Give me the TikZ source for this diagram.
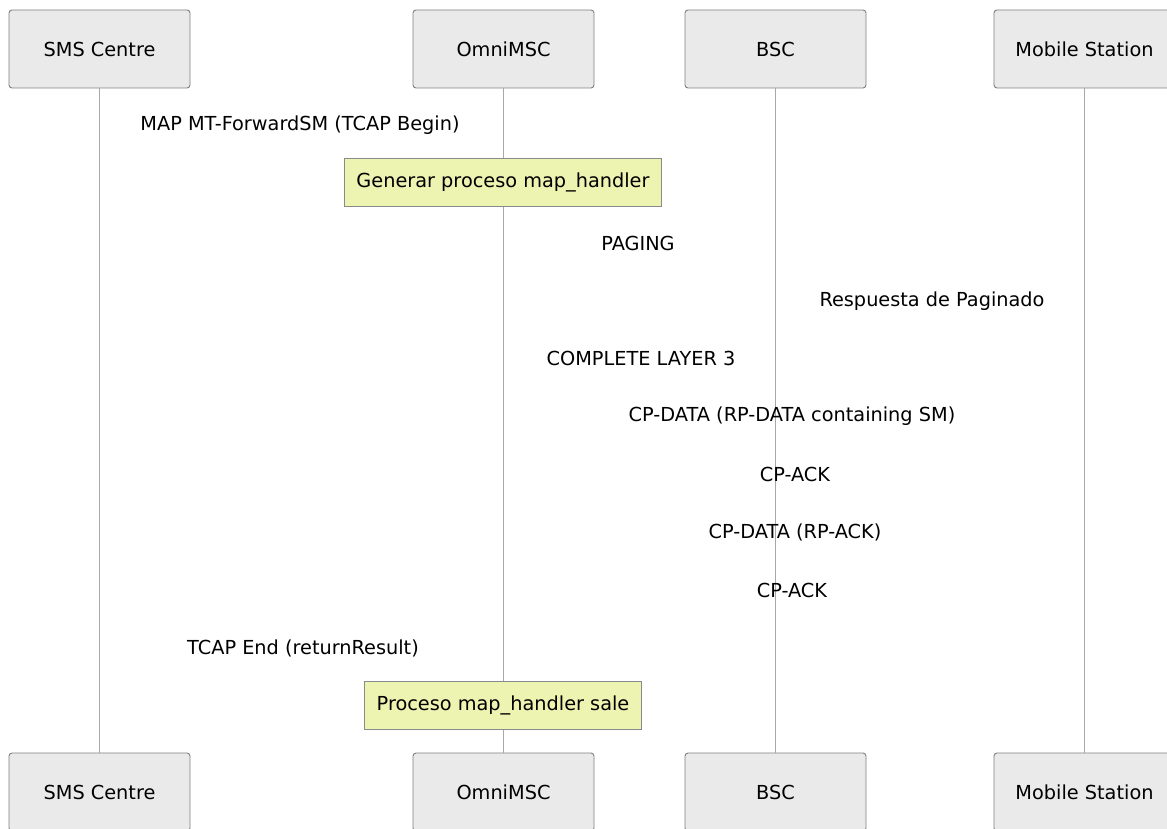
\documentclass[tikz,border=0pt]{standalone}
\usepackage{fontspec}
\setmainfont{DejaVu Sans}
\usetikzlibrary{positioning}
\definecolor{actorfill}{HTML}{EAEAEA}
\definecolor{actorline}{HTML}{808080}
\definecolor{lifeline}{HTML}{A8A8A8}
\definecolor{notefill}{HTML}{EDF3B0}
\definecolor{noteline}{HTML}{8A8A8A}

\begin{document}
\begin{tikzpicture}[x=1pt, y=-1pt, font=\fontsize{19.3}{23}\selectfont]
\tikzset{
    actor/.style={draw=actorline, fill=actorfill, rounded corners=3pt, line width=0.9pt,
                  minimum width=181pt, minimum height=78pt, inner sep=0pt},
    note/.style={draw=noteline, fill=notefill, line width=0.9pt,
                 minimum height=48pt, inner xsep=12pt, inner ysep=0pt},
    msg/.style={inner sep=0pt},
    life/.style={draw=lifeline, line width=0.9pt}
}
\useasboundingbox (0,0) rectangle (1167,829);

% --- actors (top) ---
\node[actor] (sms) at (99.5,49) {SMS Centre};
\node[actor] (msc) at (503.5,49) {OmniMSC};
\node[actor] (bsc) at (775.5,49) {BSC};
\node[actor] (ms) at (1084.5,49) {Mobile Station};

% --- actors (bottom) ---
\node[actor] (smsb) at (99.5,792) {SMS Centre};
\node[actor] (mscb) at (503.5,792) {OmniMSC};
\node[actor] (bscb) at (775.5,792) {BSC};
\node[actor] (msb) at (1084.5,792) {Mobile Station};

% --- lifelines ---
\draw[life] (sms)--(smsb);
\draw[life] (msc)--(mscb);
\draw[life] (bsc)--(bscb);
\draw[life] (ms)--(msb);

% --- messages ---
\node[msg] (m1) at (300,125) {MAP MT-ForwardSM (TCAP Begin)};
\node[msg] (m2) at (638,243) {PAGING};
\node[msg] (m3) at (932,301) {Respuesta de Paginado};
\node[msg] (m4) at (641,358) {COMPLETE LAYER 3};
\node[msg] (m5) at (792,416) {CP-DATA (RP-DATA containing SM)};
\node[msg] (m6) at (795,474) {CP-ACK};
\node[msg] (m7) at (795,532) {CP-DATA (RP-ACK)};
\node[msg] (m8) at (792,590) {CP-ACK};
\node[msg] (m9) at (303,648) {TCAP End (returnResult)};

% --- notes ---
\node[note] (n1) at (503,182) {Generar proceso map\_handler};
\node[note] (n2) at (503,705) {Proceso map\_handler sale};
\end{tikzpicture}
\end{document}
